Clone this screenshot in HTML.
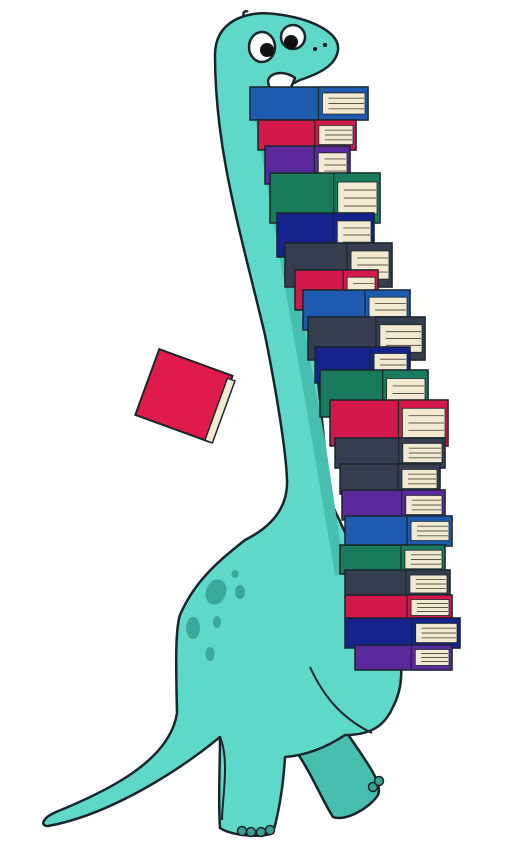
<!DOCTYPE html>
<html><head><meta charset="utf-8"><style>
html,body{margin:0;padding:0;background:#fff;width:508px;height:853px;overflow:hidden}
svg{display:block}
</style></head><body>
<svg id="art" width="508" height="853" viewBox="0 0 508 853" xmlns="http://www.w3.org/2000/svg">
  <g stroke="#17262a" stroke-width="2.5" stroke-linejoin="round">
    <path fill="#47bfae" d="M295 750 C310 770 322 800 333 817 C345 822 370 808 378 795 C382 785 372 770 362 755 L345 730 Z"/>
    <path fill="#5ed8c9" d="M215 55 C215 22 245 10 275 14 C310 18 340 32 338 50 C336 66 318 74 300 80 L280 90 L300 200 L330 500 L395 640 C405 665 402 690 393 707 C385 725 372 735 345 735 C330 745 310 755 285 757 C283 790 278 815 273 833 C262 838 232 836 220 828 C218 800 220 770 220 737 C180 770 110 815 48 826 C40 826 42 818 56 812 C110 790 170 760 177 713 C176 670 175 630 180 615 C195 580 220 560 245 540 C275 525 288 505 287 480 C286 450 276 390 265 335 C240 230 215 150 215 55 Z"/>
    <path fill="#47bfae" stroke="none" d="M252 100 L262 100 L325 440 L345 575 L335 575 L312 440 Z"/>
    <path fill="none" stroke-width="2" d="M310 667 C325 700 345 720 372 733"/>
    <path fill="none" stroke-width="2" d="M220 737 C230 760 222 800 222 820"/>
    <ellipse cx="216" cy="592" rx="10" ry="13" fill="#3aa99a" stroke="none" transform="rotate(20 216 592)"/>
    <ellipse cx="240" cy="592" rx="5" ry="7" fill="#3aa99a" stroke="none"/>
    <ellipse cx="235" cy="574" rx="3.5" ry="4" fill="#3aa99a" stroke="none"/>
    <ellipse cx="193" cy="628" rx="7" ry="11" fill="#3aa99a" stroke="none"/>
    <ellipse cx="217" cy="622" rx="4" ry="6" fill="#3aa99a" stroke="none"/>
    <ellipse cx="210" cy="654" rx="4.5" ry="7" fill="#3aa99a" stroke="none"/>
    <ellipse cx="262" cy="47" rx="13" ry="15" fill="#fff"/>
    <ellipse cx="293" cy="37" rx="12" ry="12" fill="#fff"/>
    <circle cx="267" cy="50" r="7" fill="#111" stroke="none"/>
    <circle cx="291" cy="42" r="7" fill="#111" stroke="none"/>
    <circle cx="315" cy="49" r="2" fill="#111" stroke="none"/>
    <circle cx="325" cy="45" r="2" fill="#111" stroke="none"/>
    <path fill="#fff" d="M268 82 C268 72 285 70 295 78 L290 90 L270 90 Z"/>
    <path fill="none" d="M244 16 C242 12 246 10 248 12"/>
    <g fill="#3a9e90" stroke-width="1.5">
      <circle cx="242" cy="831" r="4.5"/><circle cx="251" cy="832" r="4.5"/><circle cx="261" cy="832" r="4.5"/><circle cx="270" cy="830" r="4.5"/>
      <circle cx="373" cy="787" r="4.5"/><circle cx="379" cy="781" r="4.5"/>
    </g>
  </g>
  <g id="books"></g>
  <g transform="rotate(20 183 395)">
    <rect x="145" y="360" width="78" height="70" fill="#e01b4b" stroke="#17262a" stroke-width="2"/>
    <rect x="219" y="364" width="8" height="66" fill="#f2ead0" stroke="#17262a" stroke-width="1.5"/>
  </g>
</svg>
<script>
const bookTops = [87,120,146,173,213,243,270,290,317,347,370,400,438,464,490,516,545,570,595,618,645];
const bookBottoms = [120,150,184,223,257,287,310,330,360,383,417,446,468,494,520,546,574,598,620,648,670];
const bookLefts = [250,258,265,270,277,285,295,303,308,315,320,330,335,340,342,345,340,345,345,345,355];
const bookRights = [368,356,350,380,374,392,378,410,425,410,428,448,445,440,445,452,445,450,452,460,452];
const bookColors = ['#1e5aae','#d3194b','#5a2a9c','#1a7a5c','#16238c','#363d4e','#d3194b','#1e5aae','#363d4e','#16238c','#1a7a5c','#d3194b','#363d4e','#363d4e','#5a2a9c','#1e5aae','#1a7a5c','#363d4e','#d3194b','#16238c','#5a2a9c'];
const NS='http://www.w3.org/2000/svg';
const g=document.getElementById('books');
function mk(t,a){const e=document.createElementNS(NS,t);for(const k in a)e.setAttribute(k,a[k]);return e;}
for(let i=0;i<bookTops.length;i++){
  const y0=bookTops[i],y1=bookBottoms[i],x0=bookLefts[i],x1=bookRights[i],c=bookColors[i];
  const h=y1-y0, w=x1-x0, xm=x0+w*0.58;
  const b=mk('g',{});
  
  
  b.appendChild(mk('rect',{x:x0,y:y0,width:w,height:h,fill:c,stroke:'#17262a','stroke-width':1.5}));
  b.appendChild(mk('rect',{x:xm,y:y0,width:x1-xm,height:h,fill:c,stroke:'#17262a','stroke-width':1.2}));
  b.appendChild(mk('rect',{x:xm+4,y:y0+h*0.18,width:x1-xm-7,height:h*0.64,fill:'#f2ead0',stroke:'#17262a','stroke-width':0.8}));
  for(let k=1;k<4;k++){
    const yy=y0+h*0.18+h*0.64*k/4;
    b.appendChild(mk('line',{x1:xm+10,y1:yy,x2:x1-4,y2:yy,stroke:'#5a5648','stroke-width':0.9}));
  }
  g.appendChild(b);
}
</script>
</body></html>
